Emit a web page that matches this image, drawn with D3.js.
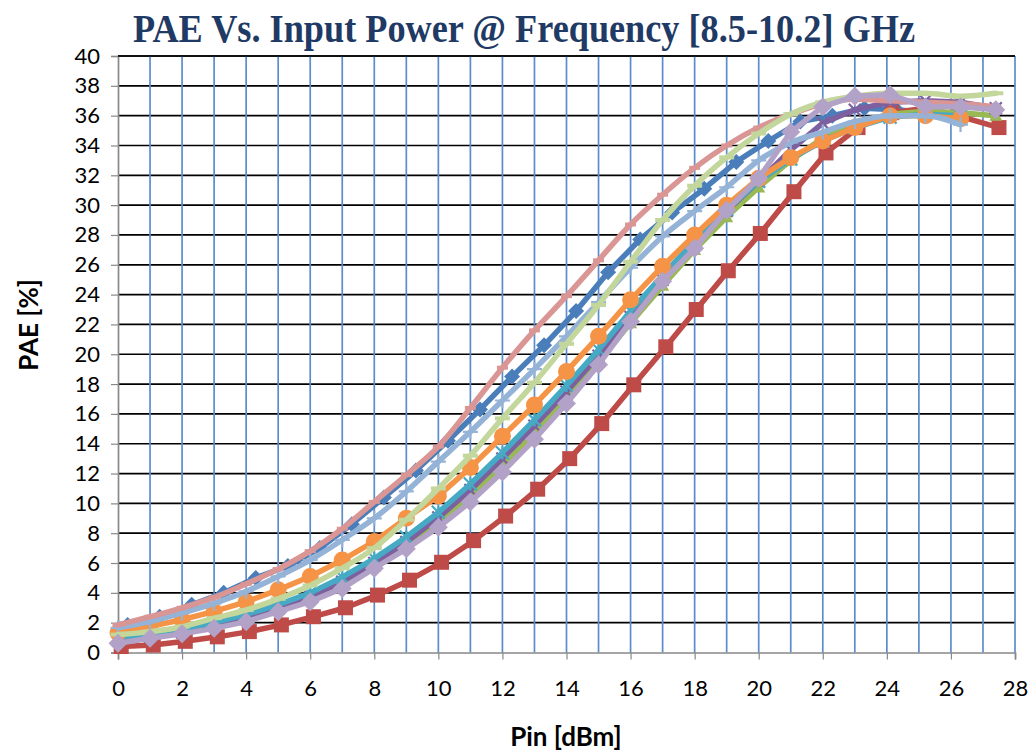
<!DOCTYPE html>
<html><head><meta charset="utf-8">
<script src="https://cdn.jsdelivr.net/npm/d3@7"></script>
<style>body{margin:0;background:#fff}</style>
</head><body><svg id="c" width="1030" height="751"></svg>
<script>
const titleText = "PAE Vs. Input Power @ Frequency [8.5-10.2] GHz";
const xTickValues = [0,2,4,6,8,10,12,14,16,18,20,22,24,26,28];
const xGridValues = [1,2,3,4,5,6,7,8,9,10,11,12,13,14,15,16,17,18,19,20,21,22,23,24,25,26,27,28];
const yTickValues = [0,2,4,6,8,10,12,14,16,18,20,22,24,26,28,30,32,34,36,38,40];

const pinStd  = [0,1,2,3,4,5,6,7,8,9,10,11,12,13,14,15,16,17,18,19,20,21,22,23,24.1,25.2,26.3,27.4];
const pinRed  = [0.1,1.1,2.1,3.1,4.1,5.1,6.1,7.1,8.1,9.1,10.1,11.1,12.1,13.1,14.1,15.1,16.1,17.1,18.05,19.05,20.05,21.1,22.1,23.1,24.15,25.2,26.2,27.5];
const pinBlue = [0.3,1.3,2.3,3.3,4.3,5.3,6.3,7.3,8.3,9.3,10.3,11.3,12.3,13.3,14.3,15.3,16.3,17.3,18.3,19.3,20.3,21.3,22.3,23.3,24.3,25.3,26.3];

const paeBlue    = [1.85,2.4,3.2,4.0,5.0,5.8,7.0,8.6,10.4,12.2,14.2,16.3,18.5,20.6,22.9,25.5,27.7,29.5,31.1,32.9,34.3,35.6,36.0,36.5,36.4,36.2,36.0];
const paeRed     = [0.4,0.5,0.75,1.05,1.4,1.85,2.4,3.0,3.85,4.85,6.05,7.5,9.15,10.95,13.0,15.35,17.95,20.5,23.0,25.6,28.1,30.9,33.5,35.2,36.2,36.5,36.0,35.2];
const paeGreen   = [0.85,1.05,1.35,1.75,2.25,2.9,3.65,4.6,5.75,7.1,8.7,10.5,12.5,14.7,17.0,19.5,22.1,24.6,27.0,29.2,31.2,33.0,34.5,35.5,36.1,36.3,36.2,36.0];
const paePurple  = [0.8,1.05,1.35,1.8,2.3,2.95,3.75,4.75,6.0,7.4,9.05,10.9,13.0,15.2,17.5,19.9,22.5,25.0,27.4,29.6,31.6,33.7,35.5,36.4,36.9,37.0,36.9,36.5];
const paeCyan    = [1.0,1.25,1.55,2.0,2.55,3.2,4.0,5.05,6.3,7.75,9.4,11.3,13.4,15.6,17.9,20.3,22.9,25.3,27.6,29.7,31.6,33.1,34.3,35.2,35.9,36.1,36.0];
const paeOrange  = [1.3,1.75,2.2,2.75,3.4,4.2,5.1,6.2,7.45,9.0,10.5,12.4,14.5,16.6,18.85,21.2,23.65,25.9,28.0,30.0,31.8,33.2,34.3,35.2,36.0,36.0,35.8];
const paeLtBlue  = [1.65,2.07,2.65,3.3,4.1,5.1,6.2,7.55,9.0,10.8,12.8,14.8,16.9,19.0,21.2,23.5,25.8,27.9,29.6,31.2,33.0,34.2,34.9,35.6,36.0,36.0,35.4];
const paePink    = [1.85,2.4,3.0,3.7,4.6,5.6,6.8,8.3,10.1,11.9,13.8,16.4,19.1,21.6,23.9,26.3,28.7,30.7,32.5,34.0,35.2,36.1,36.8,37.1,37.0,36.9,36.8,36.6];
const paeLtGreen = [1.2,1.4,1.73,2.3,2.85,3.6,4.5,5.65,7.0,8.9,11.0,13.2,15.7,18.1,20.7,23.3,26.2,29.0,31.3,33.2,34.8,36.1,36.9,37.3,37.5,37.5,37.3,37.5];
const paeLtPurple= [0.62,0.95,1.25,1.62,2.07,2.74,3.41,4.3,5.65,6.95,8.4,10.1,12.1,14.3,16.7,19.3,22.2,24.9,27.1,29.65,31.8,34.9,36.6,37.3,37.4,36.6,36.6,36.4];

const series = [
  {x: pinBlue, y: paeBlue,     color: "#4A7EBB", marker: "diamond", size: 16, smooth: false},
  {x: pinRed,  y: paeRed,      color: "#BE4B48", marker: "square",  size: 15, smooth: false},
  {x: pinStd,  y: paeGreen,    color: "#98B954", marker: "triangle",size: 13, smooth: false},
  {x: pinStd,  y: paePurple,   color: "#7D60A0", marker: "x",       size: 12, smooth: false},
  {x: pinStd,  y: paeCyan,     color: "#46AAC5", marker: "star",    size: 13, smooth: false},
  {x: pinStd,  y: paeOrange,   color: "#F59446", marker: "circle",  size: 17, smooth: false},
  {x: pinStd,  y: paeLtBlue,   color: "#95B3D7", marker: "plus",    size: 15, smooth: true},
  {x: pinStd,  y: paePink,     color: "#D99694", marker: "dash",    size: 11, smooth: true},
  {x: pinStd,  y: paeLtGreen,  color: "#C3D69B", marker: "longdash",size: 15, smooth: true},
  {x: pinStd,  y: paeLtPurple, color: "#B3A2C7", marker: "diamond", size: 19, smooth: false}
];

const svg = d3.select("#c");
const L = 118, R = 1015, T = 56, B = 652.5;
const x = d3.scaleLinear().domain([0,28]).range([L,R]);
const y = d3.scaleLinear().domain([0,40]).range([B,T]);

svg.append("g").selectAll("line").data(yTickValues.filter(d=>d>0)).join("line")
  .attr("x1",L).attr("x2",R).attr("y1",d=>y(d)).attr("y2",d=>y(d))
  .attr("stroke","#000").attr("stroke-width",1.7);
svg.append("g").selectAll("line").data(xGridValues).join("line")
  .attr("x1",d=>x(d)).attr("x2",d=>x(d)).attr("y1",T).attr("y2",B)
  .attr("stroke","#5B8DCB").attr("stroke-width",1.7);

const fontSans = "Lato, 'Open Sans', sans-serif";
const yAxis = d3.axisLeft(y).tickValues(yTickValues).tickSize(7).tickFormat(d3.format("d"));
const gy = svg.append("g").attr("transform",`translate(${L},0)`).call(yAxis);
gy.select(".domain").attr("stroke","#888").attr("stroke-width",1.7);
gy.selectAll(".tick line").attr("stroke","#888").attr("stroke-width",1.2);
gy.selectAll(".tick text").attr("x",-18).attr("font-family",fontSans)
  .attr("font-size",22).attr("fill","#000");

const xAxis = d3.axisBottom(x).tickValues(xTickValues).tickSize(7).tickFormat(d3.format("d"));
const gx = svg.append("g").attr("transform",`translate(0,${B})`).call(xAxis);
gx.select(".domain").attr("stroke","#888").attr("stroke-width",1.7);
gx.selectAll(".tick line").attr("stroke","#888").attr("stroke-width",1.2);
gx.selectAll(".tick text").attr("y",28).attr("font-family",fontSans)
  .attr("font-size",22).attr("fill","#000");

const markerPath = (type, s) => {
  const h = s/2;
  switch(type){
    case "diamond": return `M0,${-h}L${h},0L0,${h}L${-h},0Z`;
    case "square": return `M${-h},${-h}H${h}V${h}H${-h}Z`;
    case "triangle": return `M0,${-h}L${h},${h*0.8}L${-h},${h*0.8}Z`;
    case "x": return `M${-h},${-h}L${h},${h}M${h},${-h}L${-h},${h}`;
    case "star": return `M${-h},${-h}L${h},${h}M${h},${-h}L${-h},${h}M0,${-h}V${h}`;
    case "plus": return `M${-h},0H${h}M0,${-h}V${h}`;
    case "dash": return `M${-h},0H${h}`;
    case "longdash": return `M${-h},0H${h}`;
  }
};
const filled = t => ["diamond","square","triangle","circle"].includes(t);

series.forEach(s => {
  const pts = s.y.map((v,i)=>[s.x[i], v]);
  const line = d3.line().x(d=>x(d[0])).y(d=>y(d[1]))
    .curve(s.smooth ? d3.curveMonotoneX : d3.curveLinear);
  const g = svg.append("g");
  g.append("path").attr("d", line(pts)).attr("fill","none")
    .attr("stroke", s.color).attr("stroke-width", 5.5).attr("stroke-linejoin","round").attr("stroke-linecap","round");
  const m = g.selectAll(".m").data(pts).join(s.marker==="circle" ? "circle" : "path")
    .attr("transform", d=>`translate(${x(d[0])},${y(d[1])})`);
  if (s.marker === "circle") {
    m.attr("r", s.size/2).attr("fill", s.color);
  } else if (filled(s.marker)) {
    m.attr("d", markerPath(s.marker, s.size)).attr("fill", s.color);
  } else {
    m.attr("d", markerPath(s.marker, s.size)).attr("fill","none").attr("stroke", s.color)
     .attr("stroke-width", (s.marker==="dash"||s.marker==="longdash") ? 4 : 2.2);
  }
});

svg.append("line").attr("x1",L).attr("x2",R).attr("y1",T).attr("y2",T).attr("stroke","#000").attr("stroke-width",1.7);

svg.append("text").attr("x",524).attr("y",42).attr("text-anchor","middle")
  .attr("font-family","'Liberation Serif', 'Times New Roman', serif").attr("font-weight","bold")
  .attr("font-size",40).attr("fill","#1F3A64")
  .attr("textLength",782).attr("lengthAdjust","spacingAndGlyphs").text(titleText);
svg.append("text").attr("x",566).attr("y",746).attr("text-anchor","middle")
  .attr("font-family",fontSans).attr("font-weight","bold")
  .attr("font-size",26).attr("fill","#000").text("Pin [dBm]");
svg.append("text").attr("transform","translate(38,325) rotate(-90)").attr("text-anchor","middle")
  .attr("font-family",fontSans).attr("font-weight","bold")
  .attr("font-size",26).attr("fill","#000").text("PAE [%]");
</script></body></html>
